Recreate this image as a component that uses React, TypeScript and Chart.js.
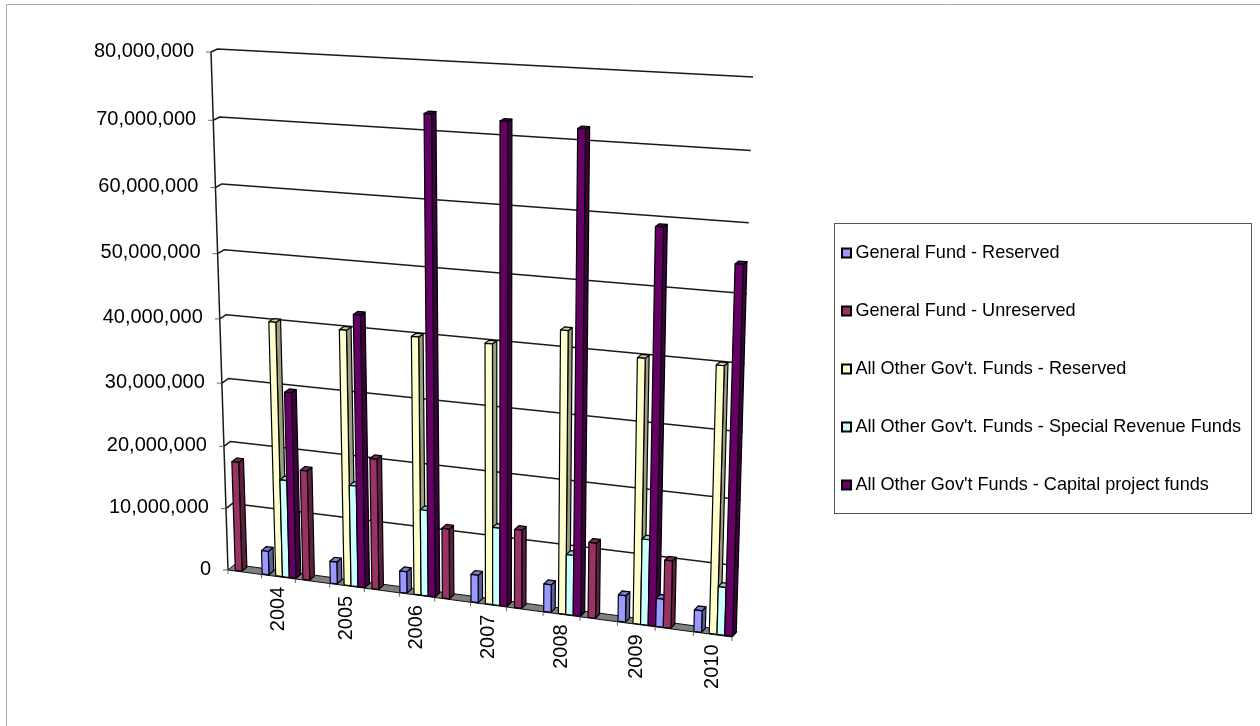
import React, { useEffect, useRef } from "react";
import { Chart, registerables } from "chart.js";

Chart.register(...registerables);

// Fourteen half-year-wide slots; every second slot carries the fiscal year label.
const categories = ["", "2004", "", "2005", "", "2006", "", "2007", "", "2008", "", "2009", "", "2010"];

const generalReserved = [null, 3800000, null, 3500000, null, 3400000, null, 4300000, null, 4300000, null, 4100000, 4300000, 3300000];
const generalUnreserved = [17600000, null, 17500000, null, 20600000, null, 11000000, null, 12200000, null, 11600000, null, 10300000, null];
const otherReserved = [null, 40200000, null, 40000000, null, 40000000, null, 40000000, null, 43000000, null, 40000000, null, 40000000];
const otherSpecialRevenue = [null, 15600000, null, 16000000, null, 13500000, null, 12100000, null, 9300000, null, 13100000, null, 7300000];
const otherCapitalProjects = [null, 29500000, null, 42500000, null, 72800000, null, 72400000, null, 72000000, null, 59000000, null, 54600000];

const seriesNames = [
  "General Fund - Reserved",
  "General Fund - Unreserved",
  "All Other Gov't. Funds - Reserved",
  "All Other Gov't. Funds - Special Revenue Funds",
  "All Other Gov't Funds - Capital project funds",
];
const seriesColors = ["#9999FF", "#993366", "#FFFFCC", "#CCFFFF", "#660066"];

const FONT = '"Liberation Sans", Arial, sans-serif';

// Perspective of the front plane of the plot: floor corners, then top corners.
const QUAD = { bl: [228, 570], br: [732, 637], tr: [748, 80], tl: [211, 52] };

function solveHomography() {
  const [x0, y0] = QUAD.bl, [x1, y1] = QUAD.br, [x2, y2] = QUAD.tr, [x3, y3] = QUAD.tl;
  const dx1 = x1 - x2, dx2 = x3 - x2, dx3 = x0 - x1 + x2 - x3;
  const dy1 = y1 - y2, dy2 = y3 - y2, dy3 = y0 - y1 + y2 - y3;
  const den = dx1 * dy2 - dx2 * dy1;
  const g = (dx3 * dy2 - dx2 * dy3) / den;
  const h = (dx1 * dy3 - dx3 * dy1) / den;
  return { a: x1 - x0 + g * x1, b: x3 - x0 + h * x3, c: x0, d: y1 - y0 + g * y1, e: y3 - y0 + h * y3, f: y0, g, h };
}
const H = solveHomography();

type Pt = [number, number];

// Projects a unit-square point (u along the categories, v up the value axis), t is depth 0..1.
function project(u: number, v: number, t = 0): Pt {
  const w = H.g * u + H.h * v + 1;
  const x = (H.a * u + H.b * v + H.c) / w;
  const y = (H.d * u + H.e * v + H.f) / w;
  const depthX = 6.5 - 1.5 * u;
  const depthY = -5.5 + 2.5 * v;
  return [x + depthX * t, y + depthY * t];
}

function shade(hex: string, k: number) {
  const n = parseInt(hex.slice(1), 16);
  const c = [(n >> 16) & 255, (n >> 8) & 255, n & 255].map((p) => Math.round(p * k));
  return `rgb(${c[0]},${c[1]},${c[2]})`;
}

function poly(ctx: CanvasRenderingContext2D, pts: Pt[], fill: string) {
  ctx.beginPath();
  pts.forEach((p, i) => (i ? ctx.lineTo(p[0], p[1]) : ctx.moveTo(p[0], p[1])));
  ctx.closePath();
  ctx.fillStyle = fill;
  ctx.fill();
  ctx.stroke();
}

const BAR_FRONT = 0.1;
const BAR_BACK = 0.85;

const perspectivePlugin = {
  id: "perspective3d",
  beforeDraw(chart: any) {
    const { ctx } = chart;
    ctx.save();
    // Outer chart border, cropped at the right and bottom
    ctx.strokeStyle = "#a8a8a8";
    ctx.lineWidth = 1;
    ctx.beginPath();
    ctx.moveTo(6.5, 726);
    ctx.lineTo(6.5, 4.5);
    ctx.lineTo(1260, 4.5);
    ctx.stroke();
    // Legend frame
    ctx.strokeStyle = "#555";
    ctx.strokeRect(834.5, 223.5, 417, 290);
    ctx.restore();
  },
  beforeDatasetsDraw(chart: any) {
    const { ctx, chartArea, scales } = chart;
    const xs = scales.x, ys = scales.y;
    const toU = (px: number) => (px - chartArea.left) / (chartArea.right - chartArea.left);
    const toV = (px: number) => (chartArea.bottom - px) / (chartArea.bottom - chartArea.top);

    ctx.save();
    ctx.lineJoin = "round";

    // Floor
    ctx.strokeStyle = "#111";
    ctx.lineWidth = 1;
    poly(ctx, [project(0, 0), project(1, 0), project(1, 0, 1), project(0, 0, 1)], "#808080");

    // Value axis with its ticks, side wall segment and back wall gridline
    ctx.lineWidth = 1.5;
    ctx.strokeStyle = "#1a1a1a";
    ctx.beginPath();
    const axisBottom = project(0, 0), axisTop = project(0, 1);
    ctx.moveTo(axisBottom[0], axisBottom[1]);
    ctx.lineTo(axisTop[0], axisTop[1]);
    ctx.stroke();

    ctx.font = `20px ${FONT}`;
    ctx.fillStyle = "#000";
    ys.ticks.forEach((tick: any, i: number) => {
      const v = toV(ys.getPixelForTick(i));
      const p = project(0, v);
      const q = project(0, v, 1);
      const r = project(1, v, 1);
      ctx.strokeStyle = "#666";
      ctx.lineWidth = 1;
      ctx.beginPath();
      ctx.moveTo(p[0] - 5, p[1]);
      ctx.lineTo(p[0], p[1]);
      ctx.stroke();
      if (v > 0) {
        ctx.strokeStyle = "#1a1a1a";
        ctx.lineWidth = 1.5;
        ctx.beginPath();
        ctx.moveTo(p[0], p[1]);
        ctx.lineTo(q[0], q[1]);
        ctx.lineTo(r[0], r[1]);
        ctx.stroke();
      }
      ctx.textAlign = "right";
      ctx.textBaseline = "middle";
      ctx.fillText(tick.label, p[0] - 17, p[1] - 1);
    });

    // Category ticks on the front floor edge
    ctx.lineWidth = 1;
    ctx.strokeStyle = "#666";
    const count = xs.ticks.length;
    for (let i = 0; i <= count; i++) {
      const p = project(i / count, 0);
      ctx.beginPath();
      ctx.moveTo(p[0], p[1]);
      ctx.lineTo(p[0], p[1] + 4);
      ctx.stroke();
    }

    // Rotated year labels
    xs.ticks.forEach((tick: any, i: number) => {
      if (!tick.label) return;
      const p = project(toU(xs.getPixelForTick(i)), 0);
      ctx.save();
      ctx.translate(p[0], p[1] + 10);
      ctx.rotate(-Math.PI / 2);
      ctx.textAlign = "right";
      ctx.textBaseline = "middle";
      ctx.fillStyle = "#000";
      ctx.fillText(tick.label, 0, 0);
      ctx.restore();
    });

    // Columns, painted left to right so each one hides its neighbour's side face
    const bars: any[] = [];
    chart.data.datasets.forEach((ds: any, di: number) => {
      chart.getDatasetMeta(di).data.forEach((el: any, index: number) => {
        if (ds.data[index] !== null) bars.push({ el, color: ds.backgroundColor });
      });
    });
    bars.sort((a, b) => a.el.x - b.el.x);

    ctx.strokeStyle = "#000";
    ctx.lineWidth = 1.2;
    for (const { el, color } of bars) {
      const u0 = toU(el.x - el.width / 2);
      const u1 = toU(el.x + el.width / 2);
      const v = toV(el.y);
      poly(ctx, [project(u1, 0, BAR_FRONT), project(u1, 0, BAR_BACK), project(u1, v, BAR_BACK), project(u1, v, BAR_FRONT)], shade(color, 0.62));
      poly(ctx, [project(u0, v, BAR_FRONT), project(u1, v, BAR_FRONT), project(u1, v, BAR_BACK), project(u0, v, BAR_BACK)], shade(color, 0.8));
      poly(ctx, [project(u0, 0, BAR_FRONT), project(u1, 0, BAR_FRONT), project(u1, v, BAR_FRONT), project(u0, v, BAR_FRONT)], color);
    }
    ctx.restore();
    return false;
  },
  afterDraw(chart: any) {
    // Square legend keys sitting close to their text
    const { ctx, legend } = chart;
    ctx.save();
    ctx.strokeStyle = "#000";
    ctx.lineWidth = 2;
    legend.legendHitBoxes.forEach((hit: any, i: number) => {
      const cy = Math.round(hit.top + hit.height / 2);
      ctx.fillStyle = seriesColors[i];
      ctx.fillRect(842, cy - 4.5, 9, 9);
      ctx.strokeRect(842, cy - 4.5, 9, 9);
    });
    ctx.restore();
  },
};

export default function App() {
  const canvasRef = useRef<HTMLCanvasElement | null>(null);

  useEffect(() => {
    document.body.style.margin = "0";
    document.body.style.background = "#fff";
    const values = [generalReserved, generalUnreserved, otherReserved, otherSpecialRevenue, otherCapitalProjects];
    const chart = new Chart(canvasRef.current as HTMLCanvasElement, {
      type: "bar",
      data: {
        labels: categories,
        datasets: seriesNames.map((label, i) => ({
          label,
          data: values[i],
          backgroundColor: seriesColors[i],
          borderColor: "#000",
          borderWidth: 2,
          barPercentage: 1,
          categoryPercentage: 1,
        })),
      },
      options: {
        animation: false,
        responsive: false,
        layout: { padding: { left: 8, right: 9, top: 204, bottom: 40 } },
        scales: {
          x: { ticks: { display: false, autoSkip: false }, grid: { display: false }, border: { display: false } },
          y: {
            min: 0,
            max: 80000000,
            ticks: { display: false, stepSize: 10000000, callback: (v: any) => Number(v).toLocaleString("en-US") },
            grid: { display: false },
            border: { display: false },
          },
        },
        plugins: {
          title: { display: false },
          tooltip: { enabled: false },
          legend: {
            position: "right",
            align: "start",
            maxWidth: 520,
            labels: {
              boxWidth: 7,
              boxHeight: 8,
              padding: 40,
              color: "#000",
              font: { family: FONT, size: 18.1 },
              // The keys themselves are painted in afterDraw above
              generateLabels: (c: any) =>
                Chart.defaults.plugins.legend.labels
                  .generateLabels(c)
                  .map((item: any) => ({ ...item, fillStyle: "rgba(0,0,0,0)", strokeStyle: "rgba(0,0,0,0)", lineWidth: 0 })),
            },
          },
        },
      },
      plugins: [perspectivePlugin],
    } as any);
    return () => chart.destroy();
  }, []);

  return <canvas ref={canvasRef} width={1260} height={726} style={{ display: "block" }} />;
}
